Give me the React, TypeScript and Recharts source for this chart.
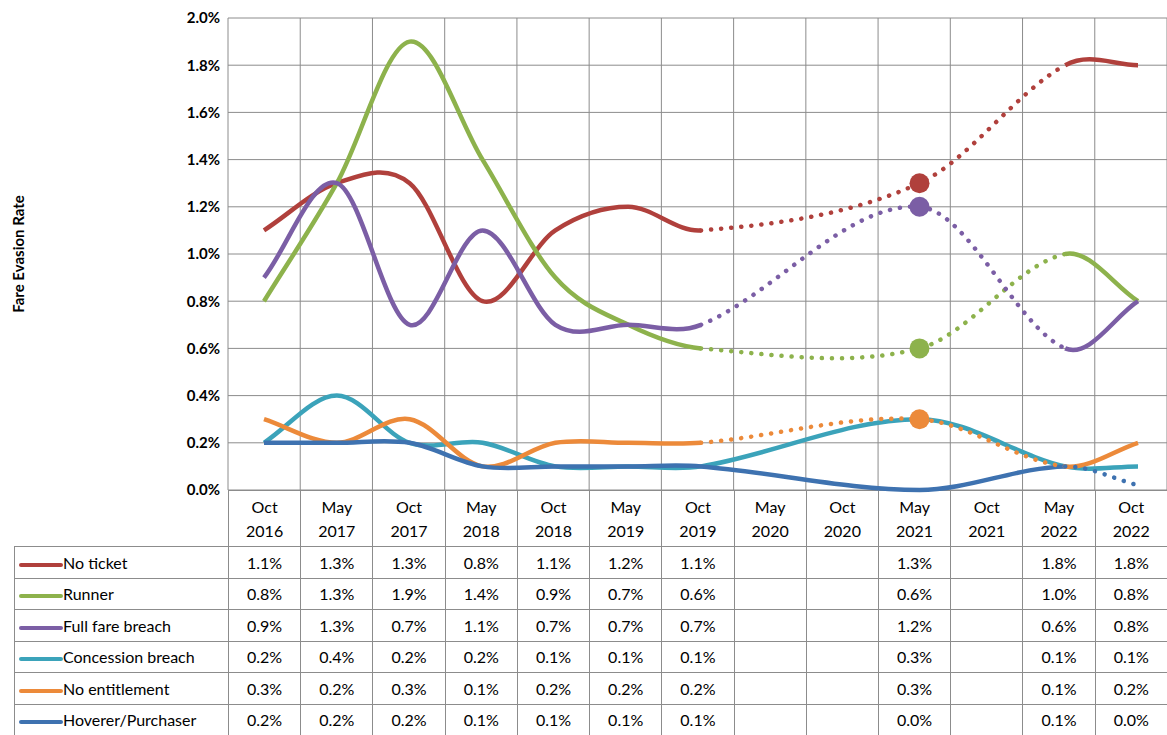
import { CartesianGrid, Line, LineChart, XAxis, YAxis } from "recharts";

const categories = [
  "Oct 2016", "May 2017", "Oct 2017", "May 2018", "Oct 2018", "May 2019", "Oct 2019",
  "May 2020", "Oct 2020", "May 2021", "Oct 2021", "May 2022", "Oct 2022",
];

const noTicket = [1.1, 1.3, 1.3, 0.8, 1.1, 1.2, 1.1, null, null, 1.3, null, 1.8, 1.8];
const runner = [0.8, 1.3, 1.9, 1.4, 0.9, 0.7, 0.6, null, null, 0.6, null, 1.0, 0.8];
const fullFare = [0.9, 1.3, 0.7, 1.1, 0.7, 0.7, 0.7, null, null, 1.2, null, 0.6, 0.8];
const concession = [0.2, 0.4, 0.2, 0.2, 0.1, 0.1, 0.1, null, null, 0.3, null, 0.1, 0.1];
const noEntitlement = [0.3, 0.2, 0.3, 0.1, 0.2, 0.2, 0.2, null, null, 0.3, null, 0.1, 0.2];
const hoverer = [0.2, 0.2, 0.2, 0.1, 0.1, 0.1, 0.1, null, null, 0.0, null, 0.1, 0.02];

const yTicks = [0, 0.2, 0.4, 0.6, 0.8, 1.0, 1.2, 1.4, 1.6, 1.8, 2.0];

// which segments (between consecutive known points) are solid
const mostlySolid = [true, true, true, true, true, true, false, false, true];
const allSolid = [true, true, true, true, true, true, true, true, true];
const lastDotted = [true, true, true, true, true, true, true, true, false];

const series = [
  { key: "noTicket", name: "No ticket", values: noTicket, color: "#B0403C", solid: mostlySolid, marker: true },
  { key: "runner", name: "Runner", values: runner, color: "#8DB24C", solid: mostlySolid, marker: true },
  { key: "fullFare", name: "Full fare breach", values: fullFare, color: "#7B5EA5", solid: mostlySolid, marker: true },
  { key: "concession", name: "Concession breach", values: concession, color: "#3BA3BA", solid: allSolid, marker: false },
  { key: "noEntitlement", name: "No entitlement", values: noEntitlement, color: "#EC8A3A", solid: mostlySolid, marker: true },
  { key: "hoverer", name: "Hoverer/Purchaser", values: hoverer, color: "#3E72B0", solid: lastDotted, marker: false },
];

const data = categories.map((c, i) => {
  const row: Record<string, unknown> = { cat: c };
  series.forEach((s) => (row[s.key] = s.values[i]));
  return row;
});

// Excel-like smoothing, drawing only the segments whose flag matches `want`
function makeCurve(flags: boolean[], want: boolean) {
  return (ctx: any) => {
    let pts: number[][] = [];
    return {
      areaStart() {},
      areaEnd() {},
      lineStart() {
        pts = [];
      },
      point(x: number, y: number) {
        pts.push([+x, +y]);
      },
      lineEnd() {
        const n = pts.length;
        const slope = (i: number) => {
          const a = pts[Math.max(0, i - 1)];
          const b = pts[Math.min(n - 1, i + 1)];
          return (b[1] - a[1]) / (b[0] - a[0]);
        };
        let drawing = false;
        for (let i = 0; i < n - 1; i++) {
          if (flags[i] === want) {
            const p = pts[i];
            const q = pts[i + 1];
            const dx = q[0] - p[0];
            if (!drawing) ctx.moveTo(p[0], p[1]);
            ctx.bezierCurveTo(
              p[0] + dx / 3, p[1] + (slope(i) * dx) / 3,
              q[0] - dx / 3, q[1] - (slope(i + 1) * dx) / 3,
              q[0], q[1]
            );
            drawing = true;
          } else drawing = false;
        }
      },
    };
  };
}

const font = "Lato, 'Open Sans', sans-serif";
const gridColor = "#8c8c8c";

export default function App() {
  return (
    <div style={{ position: "absolute", left: 0, top: 0, width: 1167, height: 735, fontFamily: font, background: "#fff", overflow: "hidden" }}>
      <div
        style={{
          position: "absolute", left: 18, top: 254, transform: "translate(-50%, -50%) rotate(-90deg)",
          fontWeight: 700, fontSize: 15, whiteSpace: "nowrap",
        }}
      >
        Fare Evasion Rate
      </div>
      <table
        style={{
          position: "absolute", left: 14, top: 490, borderCollapse: "collapse", tableLayout: "fixed",
          width: 1153, fontSize: 16, fontFamily: font,
        }}
      >
        <colgroup>
          <col style={{ width: 214 }} />
          {categories.map((c) => (
            <col key={c} style={{ width: 939 / 13 }} />
          ))}
        </colgroup>
        <tbody>
          <tr style={{ height: 56 }}>
            <td />
            {categories.map((c) => (
              <td key={c} style={{ border: `1px solid ${gridColor}`, textAlign: "center", lineHeight: "24px", padding: 0 }}>
                {c.split(" ")[0]}
                <br />
                {c.split(" ")[1]}
              </td>
            ))}
          </tr>
          {series.map((s) => (
            <tr key={s.key} style={{ height: 31.5 }}>
              <td style={{ border: `1px solid ${gridColor}`, padding: 0, whiteSpace: "nowrap" }}>
                <span
                  style={{
                    display: "inline-block", width: 44, height: 4, borderRadius: 2, background: s.color,
                    verticalAlign: "middle", marginLeft: 4, marginRight: 0,
                  }}
                />
                {s.name}
              </td>
              {s.values.map((v, i) => (
                <td key={i} style={{ border: `1px solid ${gridColor}`, textAlign: "center", padding: 0 }}>
                  {v === null ? "" : v.toFixed(1) + "%"}
                </td>
              ))}
            </tr>
          ))}
        </tbody>
      </table>
      <div style={{ position: "absolute", left: 0, top: 0 }}>
        <LineChart width={1168} height={500} data={data} margin={{ top: 18, right: 1, left: 0, bottom: 10 }}>
          <CartesianGrid
            stroke={gridColor}
            verticalCoordinatesGenerator={({ offset }: any) =>
              categories.map((_, i) => offset.left + ((i + 1) * offset.width) / categories.length)
            }
          />
          <XAxis dataKey="cat" hide padding={{ left: 36, right: 29 }} />
          <YAxis
            width={228}
            domain={[0, 2]}
            ticks={yTicks}
            tickFormatter={(v: number) => v.toFixed(1) + "%"}
            axisLine={{ stroke: gridColor }}
            tickLine={false}
            tick={{ fontSize: 15, fontWeight: 700, fill: "#000", fontFamily: font }}
          />
          {series.map((s) => (
            <Line
              key={s.key + "-solid"}
              dataKey={s.key}
              type={makeCurve(s.solid, true) as any}
              connectNulls
              stroke={s.color}
              strokeWidth={4.5}
              dot={false}
              activeDot={false}
              isAnimationActive={false}
            />
          ))}
          {series.map((s) => (
            <Line
              key={s.key + "-dot"}
              dataKey={s.key}
              type={makeCurve(s.solid, false) as any}
              connectNulls
              stroke={s.color}
              strokeWidth={4.5}
              strokeDasharray="0.1 10"
              strokeLinecap="round"
              activeDot={false}
              isAnimationActive={false}
              dot={(p: any) =>
                s.marker && p.index === 9 ? (
                  <circle key={p.index} cx={p.cx} cy={p.cy} r={10} fill={s.color} />
                ) : (
                  <g key={p.index} />
                )
              }
            />
          ))}
        </LineChart>
      </div>
    </div>
  );
}
